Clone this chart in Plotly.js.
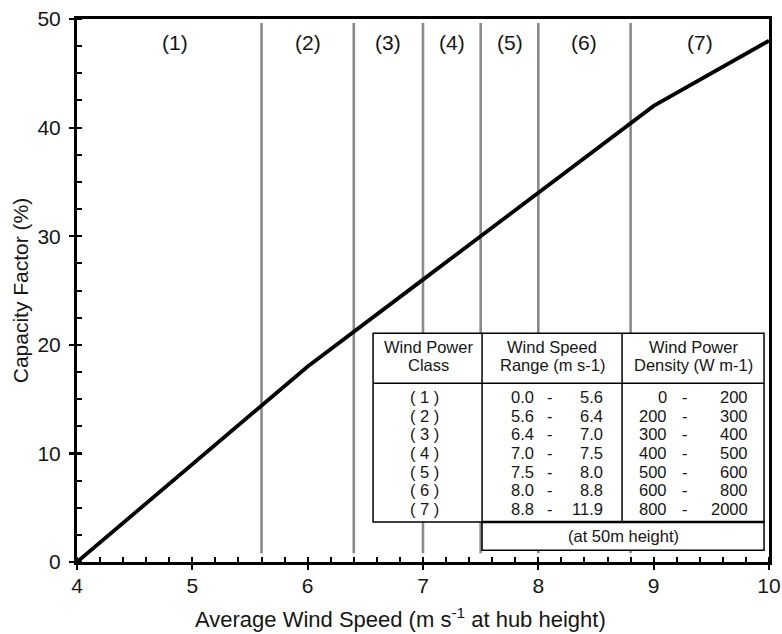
<!DOCTYPE html>
<html>
<head>
<meta charset="utf-8">
<script src="https://cdn.plot.ly/plotly-3.0.1.min.js"></script>
<style>html,body{margin:0;padding:0;background:#fff;}#chart{width:782px;height:634px;}</style>
</head>
<body>
<div id="chart"></div>
<script>
// ---- data ----
const classBoundaries = [4.0, 5.6, 6.4, 7.0, 7.5, 8.0, 8.8, 10.0];
const classLabels = ['(1)', '(2)', '(3)', '(4)', '(5)', '(6)', '(7)'];
const windSpeed = [4, 5, 6, 7, 8, 9, 10];
const capacityFactor = [0, 9, 18, 26, 34, 42, 48];
const tableHeaders = [['Wind Power', 'Class'], ['Wind Speed', 'Range (m s-1)'], ['Wind Power', 'Density (W m-1)']];
const tableClass = ['( 1 )', '( 2 )', '( 3 )', '( 4 )', '( 5 )', '( 6 )', '( 7 )'];
const speedLow = ['0.0', '5.6', '6.4', '7.0', '7.5', '8.0', '8.8'];
const speedHigh = ['5.6', '6.4', '7.0', '7.5', '8.0', '8.8', '11.9'];
const densityLow = ['0', '200', '300', '400', '500', '600', '800'];
const densityHigh = ['200', '300', '400', '500', '600', '800', '2000'];
const tableNote = '(at 50m height)';
const xTitle = 'Average Wind Speed (m s<sup>-1</sup> at hub height)';
const yTitle = 'Capacity Factor (%)';

// ---- styling / layout ----
const FONT = 'Liberation Sans, Arial, Helvetica, sans-serif';
const TXT = '#161616';

// vertical class separators
const sepX = [], sepY = [];
classBoundaries.slice(1, -1).forEach(b => { sepX.push(b, b, null); sepY.push(0.8, 49.63, null); });

const traces = [
  {x: sepX, y: sepY, mode: 'lines', line: {color: '#8a8a8a', width: 2.6}, hoverinfo: 'skip', showlegend: false},
  {x: windSpeed, y: capacityFactor, mode: 'lines', line: {color: '#000', width: 3.8}, showlegend: false},
  {x: [4], y: [0], xaxis: 'x2', yaxis: 'y2', mode: 'markers', marker: {size: 1, opacity: 0}, hoverinfo: 'skip', showlegend: false}
];

const annotations = [];
// class labels at top (label 1 sits slightly right of its band centre in the original)
const labelShift = [0.05, 0, 0, 0, 0, 0, 0];
classLabels.forEach((t, i) => {
  annotations.push({x: (classBoundaries[i] + classBoundaries[i + 1]) / 2 + labelShift[i], y: 47.8, xref: 'x', yref: 'y', text: t,
    showarrow: false, xanchor: 'center', yanchor: 'middle', font: {family: FONT, size: 21, color: TXT}});
});

// x-axis title (placed as annotation, slightly left of centre as in the original)
annotations.push({x: 0.468, y: -0.104, xref: 'paper', yref: 'paper', text: xTitle, showarrow: false,
  xanchor: 'center', yanchor: 'middle', font: {family: FONT, size: 22, color: TXT}});

// table geometry (data coordinates)
const tL = 6.567, tC1 = 7.512, tC2 = 8.726, tR = 9.957;
const tTop = 21.07, tHead = 16.46, tBot = 3.68, nBot = 1.08;
const colCenters = [(tL + tC1) / 2 + 0.01, (tC1 + tC2) / 2, (tC2 + tR) / 2];
const tf = {family: FONT, size: 16.5, color: TXT};
function ann(x, y, text, xanchor) {
  annotations.push({x: x, y: y, xref: 'x', yref: 'y', text: text, showarrow: false, xanchor: xanchor || 'center', yanchor: 'middle',
    borderpad: 0, font: tf});
}
tableHeaders.forEach((h, i) => { ann(colCenters[i], 19.80, h[0]); ann(colCenters[i], 18.10, h[1]); });
const row0 = 15.17, rowStep = 1.714;
tableClass.forEach((c, i) => {
  const y = row0 - i * rowStep;
  ann(7.015, y, c);
  ann(7.975, y, speedLow[i], 'right');
  ann(8.101, y, '-');
  ann(8.572, y, speedHigh[i], 'right');
  ann(9.128, y, densityLow[i], 'right');
  ann(9.272, y, '-');
  ann(9.830, y, densityHigh[i], 'right');
});
ann((tC1 + tR) / 2, 2.38, tableNote);

const ln = {color: '#000', width: 1.5};
const shapes = [
  {type: 'rect', xref: 'x', yref: 'y', x0: tL, x1: tR, y0: tBot, y1: tTop, fillcolor: '#fff', line: ln, layer: 'above'},
  {type: 'rect', xref: 'x', yref: 'y', x0: tC1, x1: tR, y0: nBot, y1: tBot, fillcolor: '#fff', line: ln, layer: 'above'},
  {type: 'line', xref: 'x', yref: 'y', x0: tL, x1: tR, y0: tHead, y1: tHead, line: ln, layer: 'above'},
  {type: 'line', xref: 'x', yref: 'y', x0: tC1, x1: tC1, y0: tBot, y1: tTop, line: ln, layer: 'above'},
  {type: 'line', xref: 'x', yref: 'y', x0: tC2, x1: tC2, y0: tBot, y1: tTop, line: ln, layer: 'above'},
  {type: 'line', xref: 'x', yref: 'y', x0: tC1, x1: tR, y0: tBot, y1: tBot, line: {color: '#000', width: 2.6}, layer: 'above'}
];

const tickFont = {family: FONT, size: 21, color: TXT};
const layout = {
  width: 782, height: 634,
  margin: {l: 77, r: 13, t: 19, b: 72},
  paper_bgcolor: '#fff', plot_bgcolor: '#fff',
  showlegend: false,
  xaxis: {
    range: [4, 10], dtick: 1, tick0: 4, showgrid: false, zeroline: false,
    showline: true, linecolor: '#000', linewidth: 3, mirror: true,
    ticks: 'outside', ticklen: 5, tickwidth: 2.2, tickcolor: '#000',
    minor: {ticks: 'inside', ticklen: 5, tickwidth: 2, tickcolor: '#000', dtick: 0.2},
    tickfont: tickFont, ticklabelstandoff: -2
  },
  yaxis: {
    range: [0, 50], dtick: 10, showgrid: false, zeroline: false,
    showline: true, linecolor: '#000', linewidth: 3, mirror: true,
    ticks: 'outside', ticklen: 5, tickwidth: 2.2, tickcolor: '#000',
    minor: {ticks: 'inside', ticklen: 5, tickwidth: 2, tickcolor: '#000', dtick: 2.5},
    tickfont: tickFont, ticklabelstandoff: 4,
    title: {text: yTitle, font: {family: FONT, size: 21, color: TXT}, standoff: 4}
  },
  xaxis2: {overlaying: 'x', anchor: 'y2', range: [4, 10], dtick: 1, tick0: 4, showgrid: false, zeroline: false, showline: false,
    ticks: 'inside', ticklen: 5, tickwidth: 2.2, tickcolor: '#000', showticklabels: false},
  yaxis2: {overlaying: 'y', anchor: 'x2', range: [0, 50], dtick: 10, showgrid: false, zeroline: false, showline: false,
    ticks: 'inside', ticklen: 5, tickwidth: 2.2, tickcolor: '#000', showticklabels: false},
  annotations: annotations,
  shapes: shapes
};

Plotly.newPlot('chart', traces, layout, {displayModeBar: false, staticPlot: true});
</script>
</body>
</html>
